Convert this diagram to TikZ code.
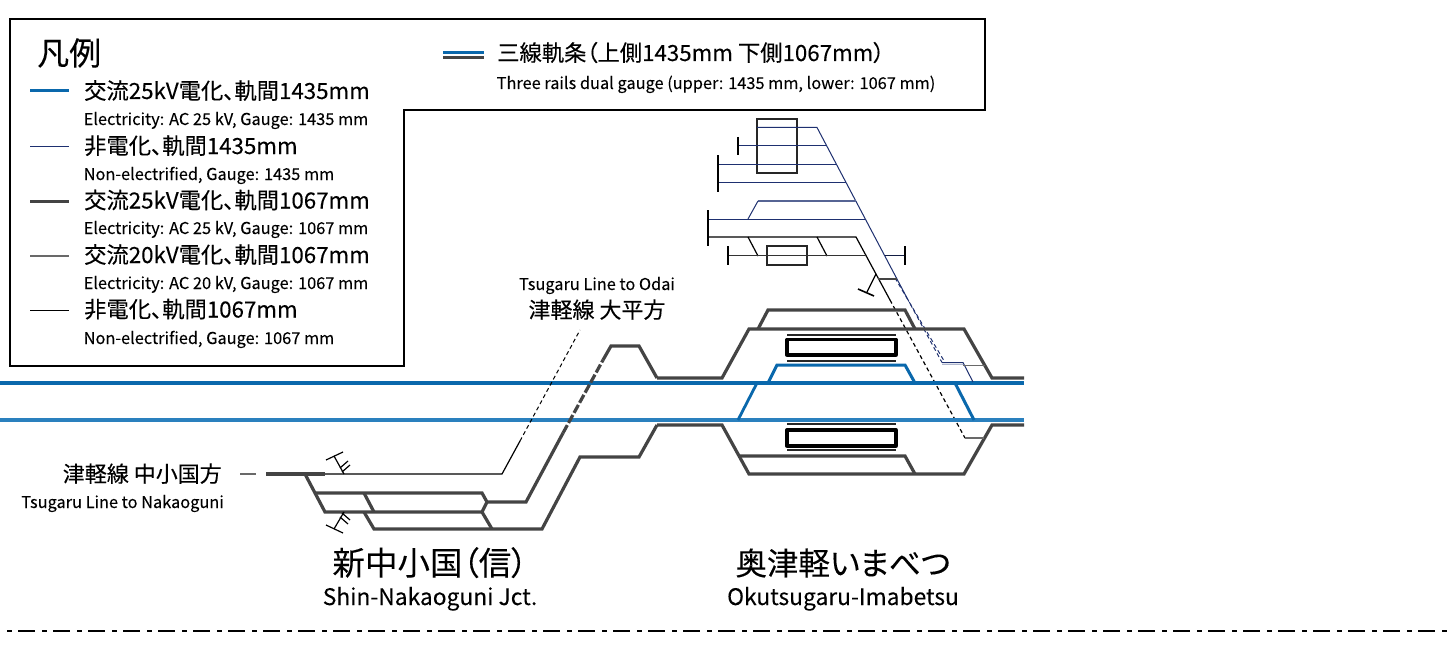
\documentclass[tikz,border=0pt]{standalone}
\usepackage{fontspec}
\setmainfont{Noto Sans CJK JP}[RawFeature={+palt},FakeBold=0.15]
\newfontfamily\subf{Noto Sans CJK JP}[RawFeature={+palt},FakeBold=0.05]
\definecolor{tblue}{HTML}{0A68AC}
\definecolor{tblueb}{HTML}{2A80BE}
\definecolor{tnavy}{HTML}{1E3070}
\definecolor{tgrey}{HTML}{444444}
\tikzset{
  x=1pt,y=-1pt,
  lbl/.style={inner sep=0pt,text=black},
  big/.style={lbl,font=\fontsize{22.3}{22}\selectfont,anchor=base west},
  small/.style={lbl,font=\subf\fontsize{16.35}{17}\selectfont,anchor=base west},
  stn/.style={lbl,font=\fontsize{31.5}{32}\selectfont,anchor=base},
  stnen/.style={lbl,font=\subf\fontsize{22.8}{23}\selectfont,anchor=base},
  ac/.style={draw=tblue,line width=3.4pt},
  acb/.style={draw=tblueb,line width=3.4pt},
  acl/.style={draw=tblue,line width=2.8pt},
  nonel/.style={draw=tnavy,line width=1pt},
  nonelb/.style={draw=tnavy!75!white,line width=1.8pt},
  cv/.style={draw=tgrey,line width=3.2pt,line join=miter},
  cvs/.style={draw=tgrey,line width=2.6pt},
  cvt/.style={draw=tgrey!80!white,line width=1.7pt},
  thin1/.style={draw=black,line width=1.2pt},
  bump/.style={draw=black,line width=1.6pt},
  box/.style={draw=black!85,line width=1.6pt},
  plat/.style={draw=black,line width=3.3pt,line join=round},
  platl/.style={draw=black!85,line width=1.6pt},
  dsh/.style={dash pattern=on 4pt off 3pt},
  dshk/.style={dash pattern=on 9pt off 2.5pt},
}
\begin{document}
\begin{tikzpicture}
\useasboundingbox (0,0) rectangle (1448,650);
\fill[white] (0,0) rectangle (1448,650);

% bottom rule
\draw[black,line width=2.2pt,dash pattern=on 17pt off 7pt on 5pt off 6pt,dash phase=17pt] (0,631) -- (1448,631);

% legend frame
\draw[black,line width=2.6pt,line join=miter] (10,19) -- (985,19) -- (985,110) -- (404,110) -- (404,366) -- (10,366) -- cycle;
\node[lbl,anchor=base west,font=\fontsize{32}{32}\selectfont] (legtitle) at (37,65) {凡例};
\draw[ac,line width=3pt] (30,90.5) -- (69,90.5);
\node[big] (l1) at (84,99) {交流25kV電化、軌間1435mm};
\node[small] (l1e) at (83.5,125) {Electricity: AC 25 kV, Gauge: 1435 mm};
\draw[nonel] (30,147) -- (69,147);
\node[big] (l2) at (84,154) {非電化、軌間1435mm};
\node[small] (l2e) at (83.5,180) {Non-electrified, Gauge: 1435 mm};
\draw[cv,line width=3pt] (30,201) -- (69,201);
\node[big] (l3) at (84,208.5) {交流25kV電化、軌間1067mm};
\node[small] (l3e) at (83.5,234) {Electricity: AC 25 kV, Gauge: 1067 mm};
\draw[cvt] (30,256) -- (69,256);
\node[big] (l4) at (84,263) {交流20kV電化、軌間1067mm};
\node[small] (l4e) at (83.5,289) {Electricity: AC 20 kV, Gauge: 1067 mm};
\draw[thin1,line width=1pt] (30,310) -- (69,310);
\node[big] (l5) at (84,317.5) {非電化、軌間1067mm};
\node[small] (l5e) at (83.5,344) {Non-electrified, Gauge: 1067 mm};
\draw[ac,line width=3pt] (443,53) -- (484,53);
\draw[cv,line width=3pt] (443,58) -- (484,58);
\node[big] (l6) at (497,61) {三線軌条（上側1435mm 下側1067mm）};
\node[small] (l6e) at (496.5,89) {Three rails dual gauge (upper: 1435 mm, lower: 1067 mm)};

% yard (upper right)
\draw[box] (757,119) rectangle (797,173);
\draw[box] (767,246) rectangle (807,265);
\draw[nonel] (757,127.5) -- (817,127.5) -- (907,298);
\draw[nonel,dsh] (907,298) -- (942,362.5);
\draw[nonel,dsh] (895,278) -- (945,362.5);
\draw[nonel] (738,146) -- (827,146);
\draw[bump] (738,137) -- (738,155);
\draw[nonel] (718,164) -- (836,164);
\draw[nonel] (718,182) -- (846,182);
\draw[bump] (718,155) -- (718,192);
\draw[nonelb] (856,201) -- (758,201);
\draw[nonel] (758,201) -- (748,219);
\draw[nonel] (708,219) -- (866,219);
\draw[bump] (708,210) -- (708,246);
\draw[thin1] (708,237) -- (856,237) -- (890,300);
\draw[thin1,dsh] (890,300) -- (965,438);
\draw[thin1] (748,237) -- (758,256);
\draw[thin1] (817,237) -- (827,256);
\draw[thin1,draw=black!80] (728,255.7) -- (866,255.7);
\draw[bump] (728,246) -- (728,265);
\draw[thin1,draw=tnavy!60!black] (885,255.7) -- (905,255.7);
\draw[bump] (905,246) -- (905,265);
\draw[thin1] (876,274) -- (867,292);
\draw[bump] (858,289) -- (874,296);
\draw[cvs,line width=1.8pt] (878,279) -- (897,279);

% main lines
\draw[ac] (0,383) -- (1024,383);
\draw[acb] (0,420) -- (1024,420);
\draw[acl] (738,420) -- (757,383);
\draw[acl,line width=3pt] (955,383) -- (974,420);
\draw[acl,line width=3pt] (768,383) -- (777,365) -- (905,365) -- (915,383);

% Okutsugaru-Imabetsu
\draw[cv] (657,378) -- (722,378) -- (749,329) -- (964,329) -- (992,378) -- (1024,378);
\draw[cv] (758,329) -- (768,310) -- (905,310) -- (915,329);
\draw[cv] (657,425) -- (722,425) -- (749,474) -- (964,474) -- (992,425) -- (1024,425);
\draw[cv] (738,456) -- (905,456) -- (915,474);
\draw[plat] (787,339.5) rectangle (896,355);
\draw[platl] (787,335) -- (896,335);
\draw[platl] (787,361) -- (896,361);
\draw[plat] (787,430) rectangle (896,446);
\draw[platl] (787,424) -- (896,424);
\draw[platl] (787,450) -- (896,450);
\draw[nonel] (942,362.5) -- (963,362.5) -- (973,382);
\draw[nonelb,draw=tnavy!35!white] (942,364.5) -- (963,364.5);
\draw[cvt] (963,365.5) -- (985,365.5);
\draw[cvt] (965,438) -- (984,438);

% Shin-Nakaoguni
\draw[cvt] (240,474) -- (256,474);
\draw[cv] (266,474) -- (325,474);
\draw[thin1] (325,474) -- (502,474) -- (520,441);
\draw[thin1,dsh,line width=1pt] (520,441) -- (580,330);
\draw[cv] (305,474) -- (325,512) -- (482,512) -- (487,502);
\draw[cv,line join=miter] (316,493) -- (482,493) -- (487,502) -- (526,502) -- (563,433);
\draw[cv,dshk] (563,433) -- (603,360);
\draw[cv] (603,360) -- (611,346) -- (639,346) -- (657,378);
\draw[cv] (364,493) -- (374,512);
\draw[cv] (364,512) -- (374,529) -- (542,529) -- (580,457) -- (639,457) -- (657,425);
\draw[cv] (482,512) -- (492,529);
\foreach \a/\b/\c/\d in {
  326/460/343/452, 334/456/344/474, 340/468/348/461, 342/472/350/465,
  326/525/343/533, 334/529/344/512, 340/517/348/524, 342/513/350/520}{
  \draw[thin1] (\a,\b) -- (\c,\d);
}

% labels
\node[lbl,anchor=base east,font=\fontsize{22}{22}\selectfont] (nk) at (222,482) {津軽線 中小国方};
\node[small,anchor=base east] (nke) at (224,508) {Tsugaru Line to Nakaoguni};
\node[small,anchor=base] (od) at (597,290) {Tsugaru Line to Odai};
\node[lbl,anchor=base,font=\fontsize{22}{22}\selectfont] (odj) at (597,318) {津軽線 大平方};
\node[stn,font=\fontsize{32.5}{33}\selectfont] (s1) at (430,575) {新中小国（信）};
\node[stnen] (s1e) at (430,605) {Shin-Nakaoguni Jct.};
\node[stn] (s2) at (843,575) {奥津軽いまべつ};
\node[stnen] (s2e) at (843,605) {Okutsugaru-Imabetsu};
\end{tikzpicture}
\end{document}
